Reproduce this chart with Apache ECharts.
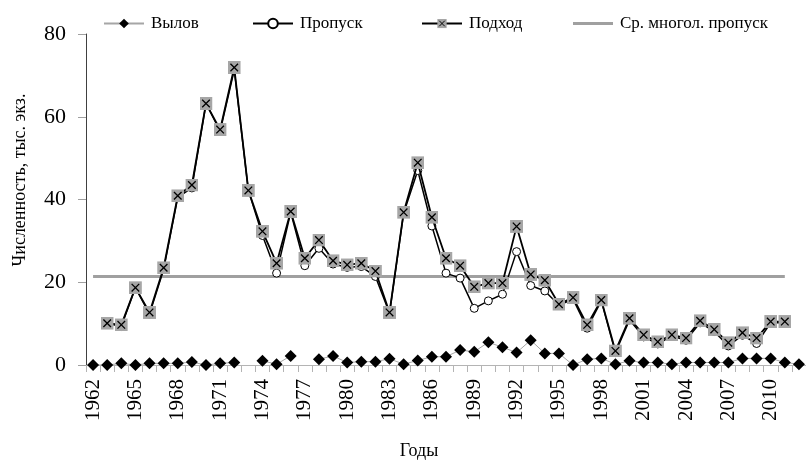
<!DOCTYPE html>
<html>
<head>
<meta charset="utf-8">
<title>Численность</title>
<script src="https://cdn.jsdelivr.net/npm/echarts@6/dist/echarts.min.js"></script>
<style>
  html, body { margin: 0; padding: 0; background: #fff; }
  #chart { width: 806px; height: 462px; }
</style>
</head>
<body>
<div id="chart"></div>
<script>
// годы
var years = ['1962','1963','1964','1965','1966','1967','1968','1969','1970','1971',
  '1972','1973','1974','1975','1976','1977','1978','1979','1980','1981',
  '1982','1983','1984','1985','1986','1987','1988','1989','1990','1991',
  '1992','1993','1994','1995','1996','1997','1998','1999','2000','2001',
  '2002','2003','2004','2005','2006','2007','2008','2009','2010','2011','2012'];

// Вылов
var vylov = [0, 0, 0.4, 0, 0.4, 0.4, 0.4, 0.7, 0, 0.4,
  0.6, null, 1.0, 0.2, 2.2, null, 1.4, 2.2, 0.6, 0.8,
  0.8, 1.5, 0.2, 1.1, 2.0, 2.0, 3.6, 3.2, 5.5, 4.3,
  3.0, 6.0, 2.8, 2.8, 0, 1.4, 1.6, 0.2, 1.0, 0.6,
  0.6, 0.2, 0.6, 0.6, 0.6, 0.6, 1.6, 1.6, 1.6, 0.6, 0.2];

// Пропуск
var propusk = [null, 10.1, 9.3, 18.7, 12.3, 23.1, 40.5, 42.8, 63.2, 56.5,
  71.3, 42.2, 31.3, 22.2, 36.9, 24.0, 28.2, 24.4, 23.6, 23.8,
  21.4, 12.5, 36.7, 47.0, 33.6, 22.2, 21.0, 13.7, 15.5, 17.1,
  27.4, 19.2, 17.9, 14.5, 15.9, 8.9, 15.5, 3.0, 10.9, 6.8,
  5.1, 7.0, 6.0, 10.2, 8.1, 4.6, 7.2, 5.2, 10.2, 10.2, null];

// Подход
var podhod = [null, 10.1, 9.7, 18.7, 12.7, 23.5, 40.9, 43.5, 63.2, 56.9,
  71.9, 42.2, 32.3, 24.6, 37.1, 25.8, 30.2, 25.2, 24.2, 24.6,
  22.7, 12.7, 36.9, 48.9, 35.7, 25.8, 24.0, 18.9, 19.8, 19.8,
  33.5, 21.9, 20.5, 14.7, 16.3, 9.7, 15.7, 3.4, 11.3, 7.3,
  5.6, 7.3, 6.5, 10.7, 8.6, 5.4, 7.8, 6.5, 10.5, 10.5, null];

// Ср. многол. пропуск (1962-2011)
var srPropusk = 21.4;
var srLastYear = '2011';

var srLine = years.map(function (y) { return y <= srLastYear ? srPropusk : null; });

var fontSerif = '"Liberation Serif", "DejaVu Serif", serif';

// серый квадрат с крестом
var crossSvg = "<svg xmlns='http://www.w3.org/2000/svg' width='24' height='24'>" +
  "<rect width='24' height='24' fill='#a6a6a6'/>" +
  "<path d='M5 5L19 19M19 5L5 19' stroke='#000' stroke-width='2.4'/></svg>";
var crossSymbol = 'image://data:image/svg+xml;charset=utf-8,' + encodeURIComponent(crossSvg);

var myChart = echarts.init(document.getElementById('chart'));

var legendBase = {
  top: 10,
  itemWidth: 40,
  itemHeight: 12,
  textStyle: { fontFamily: fontSerif, fontSize: 17, color: '#000', padding: [0, 0, 0, 2] }
};

var option = {
  animation: false,
  backgroundColor: '#fff',
  legend: [
    Object.assign({ left: 98, data: ['Вылов'] }, legendBase),
    Object.assign({ left: 247, data: ['Пропуск'] }, legendBase),
    Object.assign({ left: 416, data: ['Подход'] }, legendBase),
    Object.assign({}, legendBase, {
      left: 568, itemHeight: 3,
      data: [{ name: 'Ср. многол. пропуск', icon: 'rect' }]
    })
  ],
  grid: { left: 86, right: 0, top: 34, bottom: 97 },
  xAxis: {
    type: 'category',
    data: years,
    boundaryGap: true,
    axisLine: { show: true, onZero: false, lineStyle: { color: '#b4b4b4', width: 1 } },
    axisTick: { show: true, interval: 0, length: 7, lineStyle: { color: '#b4b4b4', width: 1 } },
    axisLabel: {
      interval: 2,
      rotate: 90,
      margin: 14,
      fontFamily: fontSerif,
      fontSize: 21,
      color: '#000'
    },
    splitLine: { show: false }
  },
  yAxis: {
    type: 'value',
    min: 0,
    max: 80,
    interval: 20,
    axisLine: { show: true, lineStyle: { color: '#404040', width: 1 } },
    axisTick: { show: true, length: 8, lineStyle: { color: '#a0a0a0', width: 1 } },
    axisLabel: { margin: 20, fontFamily: fontSerif, fontSize: 22, color: '#000' },
    splitLine: { show: false }
  },
  graphic: [
    {
      type: 'text',
      x: 20, y: 180,
      rotation: Math.PI / 2,
      style: {
        text: 'Численность, тыс. экз.',
        font: '18px ' + fontSerif,
        fill: '#000',
        textAlign: 'center',
        textVerticalAlign: 'middle'
      }
    },
    {
      type: 'text',
      x: 419, y: 451,
      style: {
        text: 'Годы',
        font: '18px ' + fontSerif,
        fill: '#000',
        textAlign: 'center',
        textVerticalAlign: 'middle'
      }
    }
  ],
  series: [
    {
      name: 'Ср. многол. пропуск',
      type: 'line',
      data: srLine,
      symbol: 'none',
      lineStyle: { color: '#a0a0a0', width: 3 },
      itemStyle: { color: '#a0a0a0' },
      z: 1
    },
    {
      name: 'Вылов',
      type: 'line',
      data: vylov,
      connectNulls: false,
      symbol: 'diamond',
      symbolSize: 12,
      showAllSymbol: true,
      lineStyle: { color: '#a6a6a6', width: 1 },
      itemStyle: { color: '#000', borderWidth: 0 },
      z: 2
    },
    {
      name: 'Пропуск',
      type: 'line',
      data: propusk,
      symbol: 'circle',
      symbolSize: 8,
      showAllSymbol: true,
      lineStyle: { color: '#000', width: 1.5 },
      itemStyle: { color: '#fff', borderColor: '#000', borderWidth: 1 },
      z: 3
    },
    {
      name: 'Подход',
      type: 'line',
      data: podhod,
      symbol: crossSymbol,
      symbolSize: 13,
      showAllSymbol: true,
      lineStyle: { color: '#000', width: 1.8 },
      itemStyle: { color: '#000' },
      z: 4
    }
  ]
};

myChart.setOption(option);
</script>
</body>
</html>
